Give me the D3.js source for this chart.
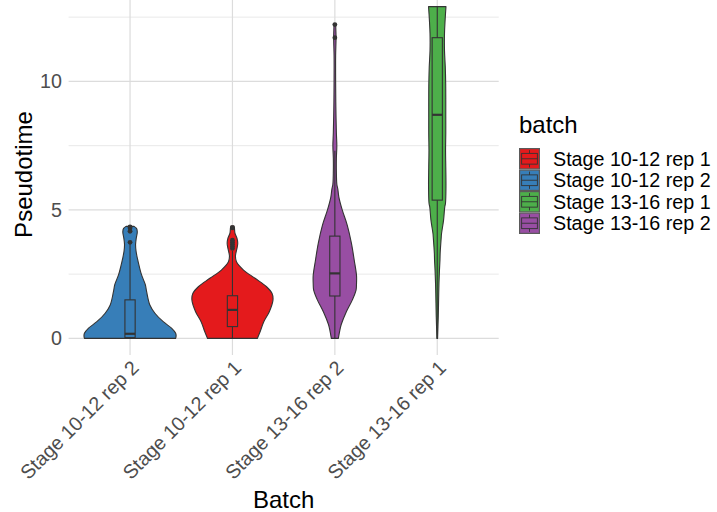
<!DOCTYPE html>
<html>
<head>
<meta charset="utf-8">
<script src="https://cdn.jsdelivr.net/npm/d3@7"></script>
<style>
  html, body { margin: 0; padding: 0; background: #ffffff; }
  svg { display: block; font-family: "Liberation Sans", Arial, Helvetica, sans-serif; }
</style>
</head>
<body>
<svg id="chart" width="717" height="512"></svg>
<script>
// ---------- data ----------
const categories = ["Stage 10-12 rep 2", "Stage 10-12 rep 1", "Stage 13-16 rep 2", "Stage 13-16 rep 1"];
const legendLevels = ["Stage 10-12 rep 1", "Stage 10-12 rep 2", "Stage 13-16 rep 1", "Stage 13-16 rep 2"];
const legendColors = ["#E41A1C", "#377EB8", "#4DAF4A", "#984EA3"];
const yTicks = [0, 5, 10];
const yMinorTicks = [2.5, 7.5, 12.5];

// violin density profiles (pseudotime level, relative density 0-1)
const blueLevels  = [0, 0.1, 0.2, 0.4, 0.65, 0.98, 1.3, 1.82, 2.1, 2.47, 2.8, 3.11, 3.4, 3.65, 3.9, 4.15, 4.28, 4.36];
const blueDensity = [0.99, 1.0, 0.99, 0.9, 0.72, 0.54, 0.43, 0.36, 0.33, 0.25, 0.2, 0.16, 0.13, 0.12, 0.135, 0.157, 0.14, 0.087];

const redLevels  = [0, 0.26, 0.65, 1.04, 1.5, 1.75, 2.01, 2.34, 2.66, 2.98, 3.2, 3.5, 3.7, 3.9, 4.1, 4.3, 4.38];
const redDensity = [0.54, 0.6, 0.68, 0.8, 0.88, 0.86, 0.74, 0.49, 0.24, 0.087, 0.065, 0.098, 0.115, 0.098, 0.054, 0.043, 0.033];

const purpleLevels  = [0, 0.33, 0.55, 1.0, 1.5, 1.88, 2.14, 2.45, 3.05, 3.7, 4.4, 5.0, 5.5, 5.8, 6.0, 6.5, 7.0, 7.5, 8.0, 9.0, 10.0, 11.0, 11.7, 12.0, 12.24];
const purpleDensity = [0.076, 0.11, 0.14, 0.24, 0.38, 0.46, 0.47, 0.47, 0.42, 0.36, 0.27, 0.16, 0.087, 0.065, 0.043, 0.033, 0.033, 0.043, 0.033, 0.022, 0.017, 0.017, 0.026, 0.022, 0.017];

const greenLevels  = [0, 0.85, 1.37, 2.14, 2.66, 3.05, 3.31, 3.95, 4.08, 4.6, 5.12, 5.25, 5.9, 6.67, 7.32, 7.97, 8.61, 9.26, 9.91, 10.56, 11.2, 11.85, 12.37, 12.91];
const greenDensity = [0.007, 0.022, 0.028, 0.037, 0.048, 0.059, 0.063, 0.087, 0.093, 0.137, 0.163, 0.178, 0.189, 0.185, 0.18, 0.185, 0.185, 0.185, 0.183, 0.174, 0.157, 0.157, 0.17, 0.189];

// box statistics per category (same order as categories)
const boxQ1       = [0.03, 0.46, 1.65, 5.38];
const boxMedian   = [0.18, 1.11, 2.53, 8.70];
const boxQ3       = [1.50, 1.66, 3.98, 11.70];
const whiskerLow  = [0, 0, 0, 0];
const whiskerHigh = [3.68, 3.40, 7.30, 12.91];
const outliers = [
  [3.74, 4.17, 4.30, 4.34],
  [3.50, 3.58, 3.66, 3.74, 3.82, 4.30],
  [11.70, 12.21],
  []
];
const categoryColors = ["#377EB8", "#E41A1C", "#984EA3", "#4DAF4A"];
const violinLevels = [blueLevels, redLevels, purpleLevels, greenLevels];
const violinDensity = [blueDensity, redDensity, purpleDensity, greenDensity];

// ---------- layout ----------
const svg = d3.select("#chart");
const panel = { left: 68.6, right: 498.7, top: -10, bottom: 355 };
const dataMax = 12.91, expand = 0.05 * dataMax;
const textSize = 19.7, titleSize = 24;

const x = d3.scalePoint().domain(categories).range([panel.left, panel.right]).padding(0.6);
const y = d3.scaleLinear().domain([-expand, dataMax + expand]).range([panel.bottom, panel.top]);
const step = x.step();
const w = d3.scaleLinear().domain([0, 1]).range([0, 0.45 * step]);

// grid
const grid = svg.append("g");
grid.selectAll(".minor").data(yMinorTicks).join("line")
  .attr("x1", panel.left).attr("x2", panel.right)
  .attr("y1", d => y(d)).attr("y2", d => y(d))
  .attr("stroke", "#e6e6e6").attr("stroke-width", 0.9);
grid.selectAll(".major").data(yTicks).join("line")
  .attr("x1", panel.left).attr("x2", panel.right)
  .attr("y1", d => y(d)).attr("y2", d => y(d))
  .attr("stroke", "#dcdcdc").attr("stroke-width", 1.2);
grid.selectAll(".vmajor").data(categories).join("line")
  .attr("x1", d => x(d)).attr("x2", d => x(d))
  .attr("y1", panel.top).attr("y2", panel.bottom)
  .attr("stroke", "#dcdcdc").attr("stroke-width", 1.2);

// violins
const marks = svg.append("g");
categories.forEach((cat, i) => {
  const cx = x(cat);
  const pts = violinLevels[i].map((v, j) => ({ v, d: violinDensity[i][j] }));
  const area = d3.area()
    .y(p => y(p.v))
    .x0(p => cx - w(p.d))
    .x1(p => cx + w(p.d))
    .curve(d3.curveCatmullRom.alpha(0.5));
  marks.append("path")
    .attr("d", area(pts) + "Z")
    .attr("fill", categoryColors[i])
    .attr("stroke", "#333333")
    .attr("stroke-width", 1.1)
    .attr("stroke-linejoin", "round");

  // boxplot
  const bw = 0.1 * step;
  const g = marks.append("g").attr("stroke", "#333333").attr("fill", "none");
  g.append("line").attr("x1", cx).attr("x2", cx)
    .attr("y1", y(boxQ3[i])).attr("y2", y(whiskerHigh[i])).attr("stroke-width", 1.1);
  g.append("line").attr("x1", cx).attr("x2", cx)
    .attr("y1", y(boxQ1[i])).attr("y2", y(whiskerLow[i])).attr("stroke-width", 1.1);
  g.append("rect")
    .attr("x", cx - bw / 2).attr("width", bw)
    .attr("y", y(boxQ3[i])).attr("height", y(boxQ1[i]) - y(boxQ3[i]))
    .attr("stroke-width", 1.1);
  g.append("line").attr("x1", cx - bw / 2).attr("x2", cx + bw / 2)
    .attr("y1", y(boxMedian[i])).attr("y2", y(boxMedian[i])).attr("stroke-width", 2.2);
  marks.selectAll(null).data(outliers[i]).join("circle")
    .attr("cx", cx).attr("cy", d => y(d)).attr("r", 2.4)
    .attr("fill", "#333333");
});

// y axis labels
svg.append("g").selectAll("text").data(yTicks).join("text")
  .attr("x", 62).attr("y", d => y(d) + 7)
  .attr("text-anchor", "end")
  .attr("font-size", textSize).attr("fill", "#4d4d4d")
  .text(d => d);

// x axis labels (rotated 45)
svg.append("g").selectAll("text").data(categories).join("text")
  .attr("text-anchor", "end")
  .attr("font-size", textSize).attr("fill", "#4d4d4d")
  .attr("transform", d => `translate(${x(d) + 10},${369}) rotate(-45)`)
  .text(d => d);

// axis titles
svg.append("text")
  .attr("x", (panel.left + panel.right) / 2).attr("y", 508)
  .attr("text-anchor", "middle").attr("font-size", titleSize).attr("fill", "#000")
  .text("Batch");
svg.append("text")
  .attr("transform", `translate(32,${(panel.top + panel.bottom) / 2 + 2}) rotate(-90)`)
  .attr("text-anchor", "middle").attr("font-size", titleSize).attr("fill", "#000")
  .text("Pseudotime");

// legend
const leg = svg.append("g").attr("transform", "translate(519,0)");
leg.append("text").attr("x", 0).attr("y", 132.5)
  .attr("font-size", titleSize).attr("fill", "#000").text("batch");
const rowH = 21.5, keyW = 21, top0 = 148;
legendLevels.forEach((lab, i) => {
  const ky = top0 + i * rowH;
  const k = leg.append("g").attr("transform", `translate(0,${ky})`);
  k.append("rect").attr("x", 0.6).attr("y", 0.6).attr("width", keyW - 1.2).attr("height", rowH - 1.2)
    .attr("fill", legendColors[i]).attr("stroke", "#5a5a5a").attr("stroke-width", 1.2);
  const kg = k.append("g").attr("stroke", "#333333").attr("stroke-width", 0.9).attr("fill", "none");
  kg.append("line").attr("x1", keyW / 2).attr("x2", keyW / 2).attr("y1", rowH * 0.1).attr("y2", rowH * 0.25);
  kg.append("line").attr("x1", keyW / 2).attr("x2", keyW / 2).attr("y1", rowH * 0.75).attr("y2", rowH * 0.9);
  kg.append("rect").attr("x", keyW * 0.125).attr("width", keyW * 0.75).attr("y", rowH * 0.25).attr("height", rowH * 0.5);
  kg.append("line").attr("x1", keyW * 0.125).attr("x2", keyW * 0.875).attr("y1", rowH / 2).attr("y2", rowH / 2);
  leg.append("text").attr("x", 34).attr("y", ky + rowH / 2 + 7)
    .attr("font-size", textSize).attr("fill", "#000").text(lab);
});
</script>
</body>
</html>
